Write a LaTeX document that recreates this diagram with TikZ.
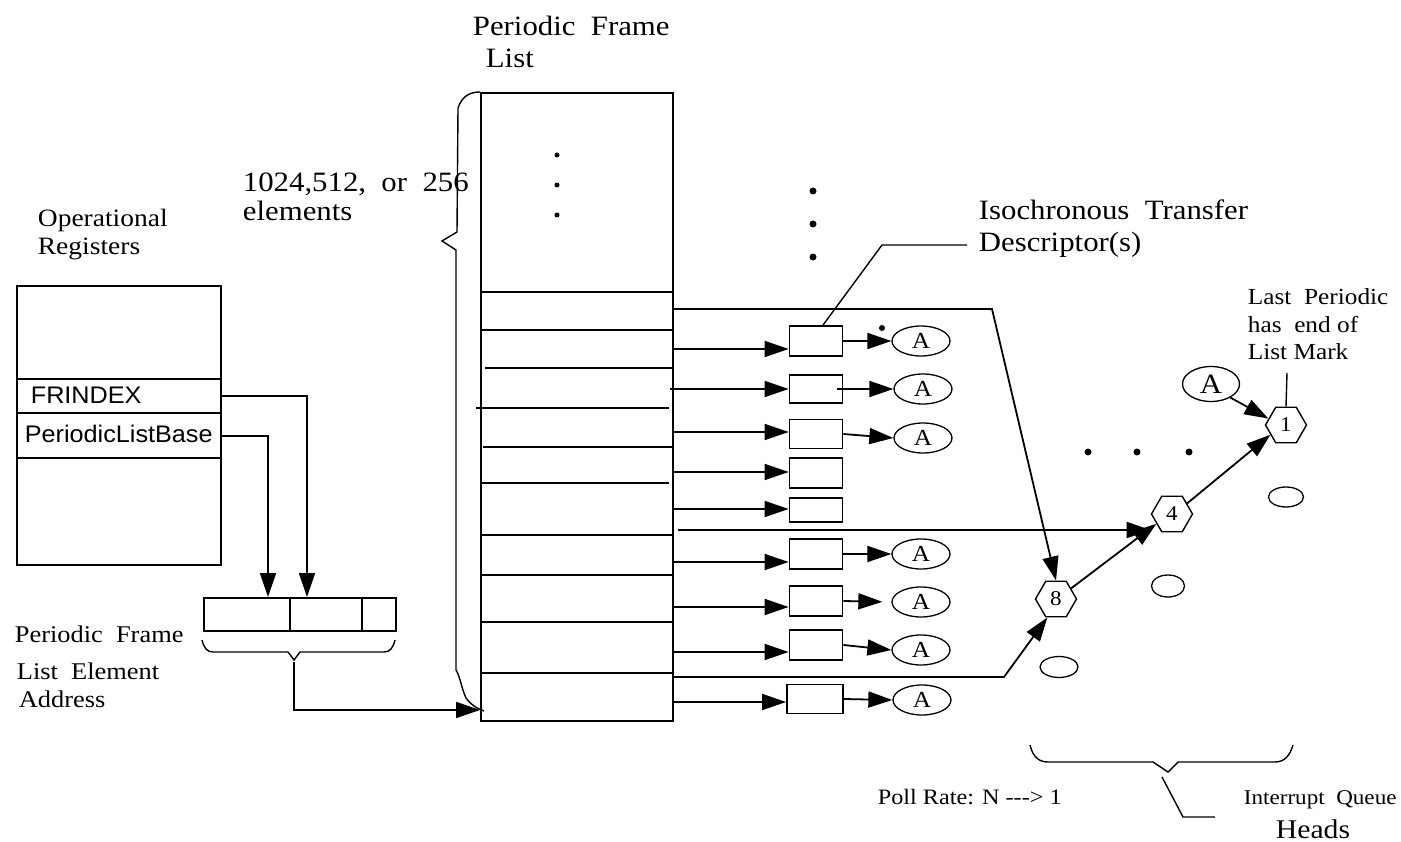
\documentclass[tikz,border=0pt]{standalone}
\usepackage{fontspec}
\setmainfont{Liberation Serif}
\newfontfamily\labfont[FakeStretch=1.1]{Liberation Serif}
\newfontfamily\regfont[FakeStretch=1.05]{Liberation Sans}
\usetikzlibrary{arrows.meta,shapes.geometric}
\begin{document}
\begin{tikzpicture}[x=1pt,y=-1pt,line width=1.8pt,
  lbl/.style={anchor=base west,inner sep=0pt,font=\labfont\fontsize{#1}{#1}\selectfont},
  rlbl/.style={anchor=base west,inner sep=0pt,font=\regfont\fontsize{#1}{#1}\selectfont},
  arr/.style={-{Triangle[length=24pt,width=16pt]}},
  tdbox/.style={draw,rectangle,minimum width=53pt,minimum height=#1,inner sep=0pt},
  aell/.style={draw,ellipse,minimum width=58pt,minimum height=30pt,inner sep=0pt,line width=1.3pt,
    font=\labfont\fontsize{23}{23}\selectfont},
  hexq/.style={draw,regular polygon,regular polygon sides=6,minimum size=41pt,inner sep=0pt,
    line width=1.4pt,font=\labfont\fontsize{21}{21}\selectfont},
  eell/.style={draw,ellipse,inner sep=0pt,line width=1.3pt},
  lead/.style={line width=1.4pt},
  dot/.style={fill,circle,inner sep=0pt,minimum size=#1}
]
\path[use as bounding box] (0,0) rectangle (1401,842);

% ---------------- operational registers
\node[lbl=25] (opreg1) at (37,227) {Operational};
\node[lbl=25] (opreg2) at (37,255) {Registers};
\node[draw,minimum width=204pt,minimum height=279pt,anchor=north west,inner sep=0pt] (regs) at (16,285) {};
\draw (16,379) -- (220,379);
\draw (16,413) -- (220,413);
\draw (16,458) -- (220,458);
\node[rlbl=24] (frx) at (30,403) {FRINDEX};
\node[rlbl=24] (plb) at (24,442) {PeriodicListBase};

% ---------------- element address
\node[draw,minimum width=192pt,minimum height=33pt,anchor=north west,inner sep=0pt] (addr) at (203,597) {};
\draw (290,597) -- (290,630);
\draw (362,597) -- (362,630);
\coordinate (frxout) at (220,396);
\coordinate (plbout) at (220,436);
\coordinate (addrin1) at (268,597);
\coordinate (addrin2) at (307,597);
\draw[arr] (frxout) -| (addrin2);
\draw[arr] (plbout) -| (addrin1);
\draw[lead] (202,640) .. controls (204,648) and (207,652) .. (213,652) -- (288,652) -- (294,660) -- (300,652)
  -- (384,652) .. controls (390,652) and (393,648) .. (395,640);
\coordinate (addrtip) at (294,662);
\node[lbl=24] (pfle1) at (14,642) {Periodic\ \ Frame};
\node[lbl=24] (pfle2) at (16,679) {List\ \ Element};
\node[lbl=24] (pfle3) at (18,707) {Address};

% ---------------- periodic frame list
\node[lbl=28] (pfltitle1) at (472,36) {Periodic\ \ Frame};
\node[lbl=28] (pfltitle2) at (485,68) {List};
\node[draw,minimum width=192pt,minimum height=628pt,anchor=north west,inner sep=0pt] (pfl) at (480,92) {};
\draw (480,292) -- (672,292);
\draw (480,330) -- (672,330);
\draw (485,368) -- (672,368);
\draw (476,408) -- (669,408);
\draw (483,447) -- (672,447);
\draw (480,483) -- (669,483);
\draw (480,535) -- (672,535);
\draw (480,575) -- (672,575);
\draw (480,622) -- (672,622);
\draw (480,673) -- (672,673);
\node[dot=5pt] (pd1) at (557,155) {};
\node[dot=5pt] (pd2) at (557,185) {};
\node[dot=5pt] (pd3) at (557,215) {};
\node[lbl=28] (cnt1) at (242,192) {1024,512,\ \ or\ \ 256};
\node[lbl=28] (cnt2) at (242,221) {elements};
\draw[lead] (480,92) .. controls (470,92) and (462,96) .. (458,108) -- (457,232) -- (442,241) -- (456,250)
  -- (456,670) .. controls (460,676) and (462,690) .. (466,698) .. controls (470,704) and (476,708) .. (484,711);
\coordinate (pflin) at (480,710);
\draw[arr] (addrtip) |- (pflin);

% ---------------- transfer descriptors
\coordinate (o1) at (672,309);
\coordinate (o2) at (672,349);
\coordinate (o3) at (670,389);
\coordinate (o4) at (672,432);
\coordinate (o5) at (672,472);
\coordinate (o6) at (672,509);
\coordinate (o7) at (678,530);
\coordinate (o8) at (672,562);
\coordinate (o9) at (672,607);
\coordinate (o10) at (672,652);
\coordinate (o11) at (672,677);
\coordinate (o12) at (672,702);

\node[tdbox=30pt] (td1) at (816,341) {};
\node[tdbox=28pt] (td2) at (816,389) {};
\node[tdbox=29pt] (td3) at (816,434) {};
\node[tdbox=30pt] (td4) at (816,473) {};
\node[tdbox=24pt] (td5) at (816,510) {};
\node[tdbox=30pt] (td6) at (816,554) {};
\node[tdbox=30pt] (td7) at (816,601) {};
\node[tdbox=30pt] (td8) at (816,645) {};
\node[tdbox=29pt,minimum width=56pt] (td9) at (815,699) {};

\node[aell] (a1) at (921,341) {A};
\node[aell] (a2) at (923,389) {A};
\node[aell] (a3) at (923,438) {A};
\node[aell] (a6) at (921,554) {A};
\node[aell] (a7) at (921,602) {A};
\node[aell] (a8) at (921,650) {A};
\node[aell] (a9) at (922,700) {A};
\node[dot=6pt] (sdot) at (882,328) {};

\draw[arr] (o2) -- (o2 -| td1.west);
\draw[arr] (o3) -- (o3 -| td2.west);
\draw[arr] (o4) -- (o4 -| td3.west);
\draw[arr] (o5) -- (o5 -| td4.west);
\draw[arr] (o6) -- (o6 -| td5.west);
\draw[arr] (o8) -- (o8 -| td6.west);
\draw[arr] (o9) -- (o9 -| td7.west);
\draw[arr] (o10) -- (o10 -| td8.west);
\draw[arr] (o12) -- (o12 -| td9.west);

\draw[arr] (td1.east) -- (a1.west);
\draw[arr] ([xshift=-6pt]td2.east) -- (a2.west);
\draw[arr] (td3.east) -- (a3.west);
\draw[arr] (td6.east) -- (a6.west);
\draw[arr,shorten >=9pt] (td7.east) -- (a7.west);
\draw[arr] (td8.east) -- (a8.west);
\draw[arr] (td9.east) -- (a9.west);

\node[dot=7pt] (vd1) at (813,191) {};
\node[dot=7pt] (vd2) at (813,224) {};
\node[dot=7pt] (vd3) at (813,257) {};

\node[lbl=28] (itd1) at (978,220) {Isochronous\ \ Transfer};
\node[lbl=28] (itd2) at (978,252) {Descriptor(s)};
\coordinate (tdlbl) at (967,245);
\draw[lead] ([xshift=7pt]td1.north) -- (882,245) -- (tdlbl);

% ---------------- interrupt queue heads
\node[hexq] (h8) at (1056,599) {8};
\node[hexq] (h4) at (1172,514) {4};
\node[hexq] (h1) at (1286,425) {1};
\node[eell,minimum width=35pt,minimum height=20pt] (e1) at (1286,497) {};
\node[eell,minimum width=33pt,minimum height=22pt] (e4) at (1168,586) {};
\node[eell,minimum width=38pt,minimum height=21pt] (e8) at (1059,667) {};
\node[aell,minimum width=57pt,minimum height=35pt,font=\labfont\fontsize{28}{28}\selectfont] (a0) at (1211,384) {A};

\coordinate (bend1) at (992,309);
\coordinate (bend2) at (1004,677);
\draw[arr] (o1) -- (bend1) -- (h8.north);
\draw[arr] (o11) -- (bend2) -- (h8.245);
\draw[arr] (o7) -- (o7 -| h4.west);
\draw[arr] (h8.35) -- (h4.212);
\draw[arr] (h4.35) -- (h1.212);
\draw[arr] (a0.-35) -- (h1.160);

\node[dot=7pt] (hd1) at (1088,452) {};
\node[dot=7pt] (hd2) at (1137,452) {};
\node[dot=7pt] (hd3) at (1189,452) {};

\node[lbl=23] (lp1) at (1247,305) {Last\ \ Periodic};
\node[lbl=23] (lp2) at (1247,333) {has\ \ end of};
\node[lbl=23] (lp3) at (1247,360) {List Mark};
\coordinate (lpm) at (1287,373);
\draw[lead] (h1.north) -- (lpm);

\draw[lead] (1030,745) .. controls (1033,758) and (1040,762) .. (1048,762) -- (1153,762) -- (1168,772)
  -- (1178,762) -- (1275,762) .. controls (1285,762) and (1290,755) .. (1293,745);
\coordinate (qbr) at (1162,777);
\coordinate (qlbl) at (1215,817);
\draw[lead] (qbr) -- (1183,817) -- (qlbl);
\node[lbl=22] (poll) at (877,804) {Poll Rate: N -{}-{}-> 1};
\node[lbl=21] (iq1) at (1243,804) {Interrupt\ \ Queue};
\node[lbl=27] (iq2) at (1275,838) {Heads};
\end{tikzpicture}
\end{document}
